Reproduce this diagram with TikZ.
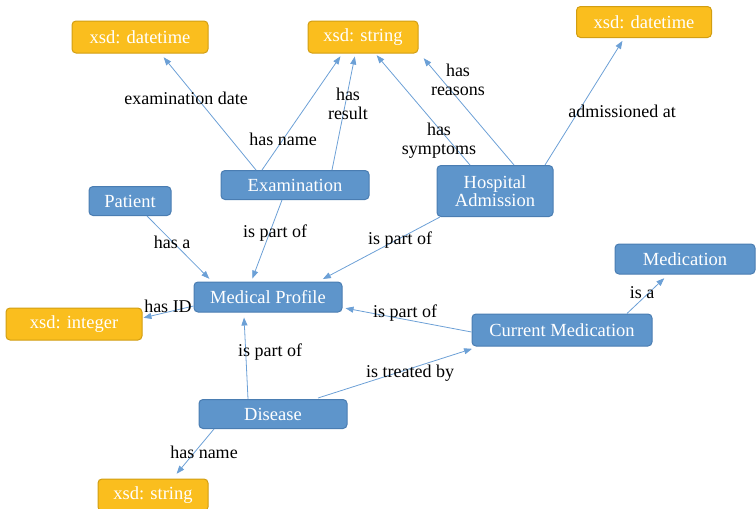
\documentclass[tikz,border=0pt]{standalone}
\usepackage{fontspec}
\setmainfont{Liberation Serif}
\usetikzlibrary{arrows.meta, positioning, calc}
\definecolor{ontoblue}{HTML}{5E95CB}
\definecolor{ontoblueline}{HTML}{4A7DB2}
\definecolor{ontoorange}{HTML}{FABE1E}
\definecolor{ontoorangeline}{HTML}{D29E12}
\definecolor{ontoarrow}{HTML}{6CA0D6}

\tikzset{
  classbox/.style={draw=ontoblueline, fill=ontoblue, rounded corners=4pt, line width=1pt,
    text=white, font=\fontsize{18.5}{18}\selectfont, align=center, inner sep=0pt},
  typebox/.style={draw=ontoorangeline, fill=ontoorange, rounded corners=4pt, line width=1pt,
    text=white, font=\fontsize{18.5}{18}\selectfont, inner sep=0pt},
  rel/.style={ontoarrow, line width=0.8pt, -{Triangle[length=8pt,width=6pt]}, shorten >=1pt},
  lbl/.style={font=\fontsize{18}{19}\selectfont, align=center, inner sep=0pt}
}

\begin{document}
\begin{tikzpicture}[x=1pt, y=-1pt]
  \useasboundingbox (0,0) rectangle (756,509);

  % Data types
  \node[typebox, minimum width=136pt, minimum height=32pt] (dtA) at (140,37) {xsd: datetime};
  \node[typebox, minimum width=110pt, minimum height=32pt] (strA) at (363,37) {xsd: string};
  \node[typebox, minimum width=135pt, minimum height=31pt] (dtB) at (644,22) {xsd: datetime};
  \node[typebox, minimum width=136pt, minimum height=32pt] (intA) at (74,324) {xsd: integer};
  \node[typebox, minimum width=110pt, minimum height=32pt] (strB) at (153,495) {xsd: string};

  % Classes
  \node[classbox, minimum width=148pt, minimum height=29pt] (exam) at (295,185) {Examination};
  \node[classbox, minimum width=82pt, minimum height=29pt] (patient) at (130,201) {Patient};
  \node[classbox, minimum width=116pt, minimum height=51pt] (hosp) at (495,191) {Hospital\\Admission};
  \node[classbox, minimum width=140pt, minimum height=30pt] (medication) at (685,259) {Medication};
  \node[classbox, minimum width=148pt, minimum height=30pt] (profile) at (268,297) {Medical Profile};
  \node[classbox, minimum width=180pt, minimum height=32pt] (curmed) at (562,330) {Current Medication};
  \node[classbox, minimum width=148pt, minimum height=29pt] (disease) at (273,414) {Disease};

  % Relations
  \draw[rel] ([xshift=-39pt]exam.north) -- ([xshift=23pt,yshift=-3pt]dtA.south);
  \draw[rel] ([xshift=-33pt]exam.north) -- ([xshift=-22pt,yshift=-2pt]strA.south);
  \draw[rel] ([xshift=37pt]exam.north) -- ([xshift=-8pt,yshift=-2pt]strA.south);
  \draw[rel] ([xshift=-25pt]hosp.north) -- ([xshift=13pt,yshift=-1pt]strA.south);
  \draw[rel] ([xshift=19pt]hosp.north) -- ([xshift=60pt,yshift=-4pt]strA.south);
  \draw[rel] ([xshift=50pt]hosp.north) -- ([xshift=-21pt,yshift=-2pt]dtB.south);
  \draw[rel] ([xshift=17pt]patient.south) -- ([xshift=-58pt,yshift=2pt]profile.north);
  \draw[rel] ([xshift=-13pt]exam.south) -- ([xshift=-16pt,yshift=2pt]profile.north);
  \draw[rel] ([xshift=-55pt]hosp.south) -- ([xshift=54pt,yshift=2pt]profile.north);
  \draw[rel] ([yshift=-9pt]profile.west) -- ([yshift=6pt]intA.east);
  \draw[rel] ([yshift=-2pt]curmed.west) -- ([xshift=2pt,yshift=-11pt]profile.east);
  \draw[rel] ([xshift=65pt]curmed.north) -- ([xshift=-20pt,yshift=-3pt]medication.south);
  \draw[rel] ([xshift=-25pt]disease.north) -- ([xshift=-24pt,yshift=-4pt]profile.south);
  \draw[rel] ([xshift=45pt,yshift=1pt]disease.north) -- ([xshift=-89pt,yshift=-2pt]curmed.south);
  \draw[rel] ([xshift=-59pt]disease.south) -- ([xshift=23pt,yshift=4pt]strB.north);

  % Relation labels
  \node[lbl] (lexdate) at (186,98) {examination date};
  \node[lbl] (lexname) at (283,139) {has name};
  \node[lbl] (lexres) at (348,104) {has\\result};
  \node[lbl] (lsympt) at (439,141) {has\\symptoms};
  \node[lbl] (lreason) at (458,80) {has\\reasons};
  \node[lbl] (ladmit) at (622,111) {admissioned at};
  \node[lbl] (lhasa) at (172,242) {has a};
  \node[lbl] (lexpart) at (275,233) {is part of};
  \node[lbl] (lhopart) at (400,240) {is part of};
  \node[lbl] (lhasid) at (168,306) {has ID};
  \node[lbl] (lcmpart) at (405,313) {is part of};
  \node[lbl] (lisa) at (642,293) {is a};
  \node[lbl] (ldipart) at (270,352) {is part of};
  \node[lbl] (ltreat) at (410,373) {is treated by};
  \node[lbl] (ldiname) at (204,452) {has name};
\end{tikzpicture}
\end{document}
